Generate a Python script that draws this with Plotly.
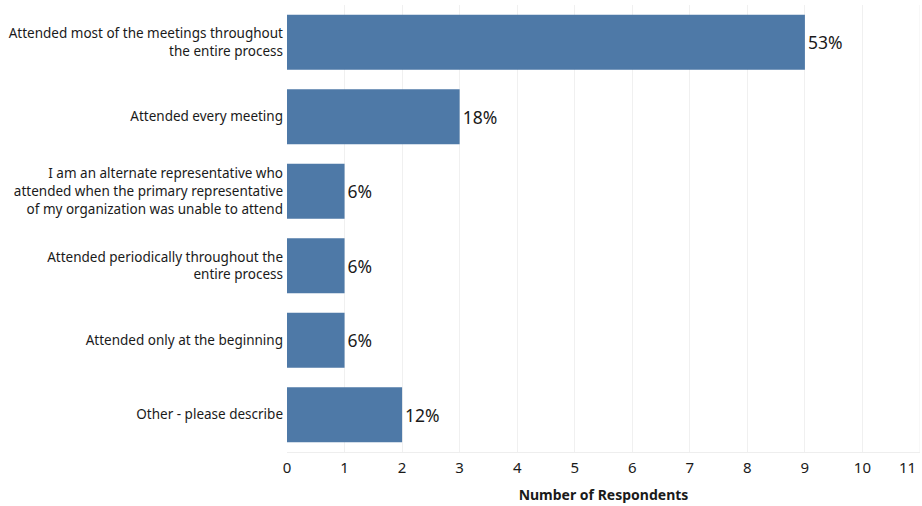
import plotly.graph_objects as go

categories = [
    "Attended most of the meetings throughout<br>the entire process",
    "Attended every meeting",
    "I am an alternate representative who<br>attended when the primary representative<br>of my organization was unable to attend",
    "Attended periodically throughout the<br>entire process",
    "Attended only at the beginning",
    "Other - please describe",
]
counts = [9, 3, 1, 1, 1, 2]
pct_labels = ["53%", "18%", "6%", "6%", "6%", "12%"]
x_ticks = list(range(0, 11))
last_tick = 11

fig = go.Figure(
    go.Bar(
        y=categories,
        x=counts,
        orientation="h",
        marker=dict(color="#4e79a7", line=dict(width=0)),
        text=pct_labels,
        textposition="outside",
        textfont=dict(size=17.5, color="#1a1a1a", family="Noto Sans"),
        cliponaxis=False,
        width=0.74,
        hoverinfo="skip",
    )
)

fig.update_layout(
    width=922,
    height=506,
    margin=dict(l=287, r=2, t=5, b=54, autoexpand=False),
    paper_bgcolor="white",
    plot_bgcolor="white",
    font=dict(family="Noto Sans", color="#1a1a1a"),
    showlegend=False,
    bargap=0.26,
)
fig.update_yaxes(
    autorange="reversed",
    automargin=False,
    tickfont=dict(size=13.5, color="#1a1a1a"),
    showgrid=False,
    showline=False,
    ticks="",
    ticklen=0,
    ticklabelstandoff=3,
)
fig.update_xaxes(
    range=[0, 11],
    automargin=False,
    tickvals=x_ticks,
    ticktext=[str(v) for v in x_ticks],
    tickfont=dict(size=15, color="#1a1a1a"),
    showgrid=True,
    gridcolor="#f0f0f0",
    gridwidth=1,
    zeroline=False,
    showline=True,
    linecolor="#eeeeee",
    ticks="",
    ticklabelstandoff=2,
    title=dict(text="<b>Number of Respondents</b>", font=dict(size=14, color="#1a1a1a"), standoff=14),
)
fig.add_vline(x=last_tick, line=dict(color="#f0f0f0", width=1), layer="below")
fig.add_annotation(
    x=last_tick, y=0, xref="x", yref="paper", yanchor="top", xanchor="right",
    yshift=-3, xshift=-2, text=str(last_tick), showarrow=False,
    font=dict(size=15, color="#1a1a1a"),
)

fig.write_html(
    "out.html",
    config={"displayModeBar": False},
    post_script="document.body.style.margin='0px';document.body.style.overflow='hidden';",
)
